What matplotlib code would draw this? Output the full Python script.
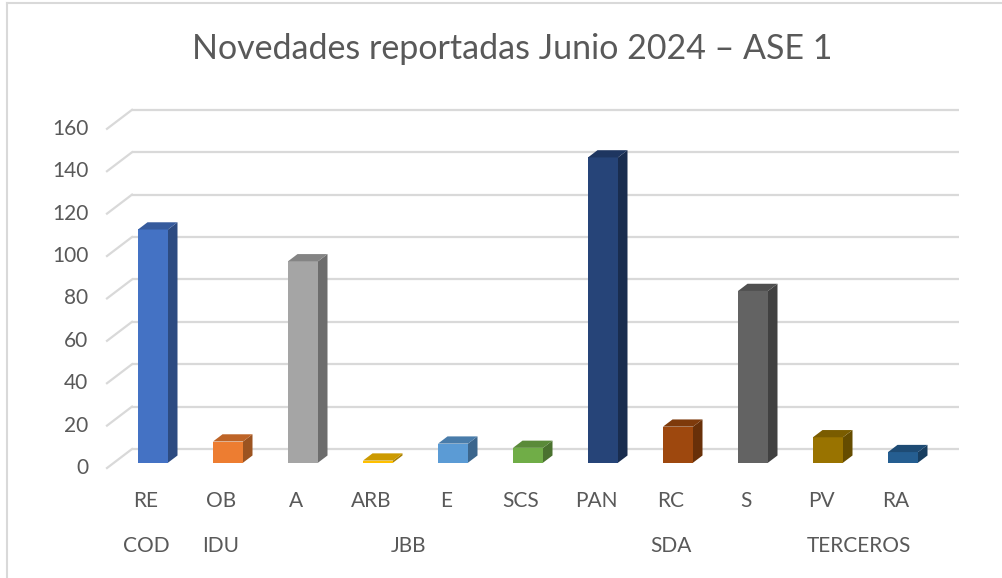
import matplotlib
matplotlib.use("Agg")
from matplotlib import pyplot as plt
from matplotlib.patches import Polygon
from matplotlib.lines import Line2D
import numpy as np

plt.rcParams['font.family'] = ['Lato', 'DejaVu Sans']

title = "Novedades reportadas Junio 2024 – ASE 1"
labels = ["RE", "OB", "A", "ARB", "E", "SCS", "PAN", "RC", "S", "PV", "RA"]
groups = ["COD", "IDU", "JBB", "JBB", "JBB", "JBB", "SDA", "SDA", "SDA", "TERCEROS", "TERCEROS"]
values = [110, 10, 95, 1, 9, 7, 144, 17, 81, 12, 5]
colors = ["#4472C4", "#ED7D31", "#A5A5A5", "#FFC000", "#5B9BD5", "#70AD47",
          "#264478", "#9E480E", "#636363", "#997300", "#255E91"]
y_ticks = [0, 20, 40, 60, 80, 100, 120, 140, 160]

TEXT = "#595959"
GRID = "#D9D9D9"

# pixel layout of the fake 3D box
W, H = 1002, 578
X0, PX_CAT = 153.0, 75.0      # pixel x of category 0, pixels per category
Y0, PX_UNIT = 462.7, 2.12     # pixel y of value 0 (bar front), pixels per unit
DX, DY = 25.0 / PX_CAT, 19.0 / PX_UNIT   # depth direction in data units
WALL_FRONT, WALL_BACK = -0.28, 0.72
BAR_DEPTH = 0.38
HALF = 0.2
X_LEFT, X_RIGHT = -0.52, 10.51


def shift(x, v, d):
    return x + d * DX, v + d * DY


def darker(c, f):
    rgb = np.array(matplotlib.colors.to_rgb(c))
    return tuple(rgb * f)


fig = plt.figure(figsize=(W / 100, H / 100), dpi=100)
ax = fig.add_axes([0, 0, 1, 1])
ax.set_xlim(-X0 / PX_CAT, (W - X0) / PX_CAT)
ax.set_ylim((Y0 - H) / PX_UNIT, Y0 / PX_UNIT)
ax.axis('off')

# chart area border (only top and left visible)
fig.add_artist(Line2D([7 / W, 7 / W], [0, 1 - 3 / H], color=GRID, lw=1.5))
fig.add_artist(Line2D([7 / W, 1], [1 - 3 / H, 1 - 3 / H], color=GRID, lw=1.5))

# walls gridlines
for t in y_ticks:
    bx0, by0 = shift(X_LEFT, t, WALL_BACK)
    bx1, by1 = shift(X_RIGHT, t, WALL_BACK)
    fx, fy = shift(X_LEFT, t, WALL_FRONT)
    ax.plot([bx0, bx1], [by0, by1], color=GRID, lw=1.6, zorder=1, solid_capstyle='butt')
    ax.plot([fx, bx0], [fy, by0], color=GRID, lw=1.6, zorder=1)
    ax.text(fx - 0.25, fy, str(t), ha='right', va='center', fontsize=15, color=TEXT)

idx = np.arange(len(values))
ax.bar(idx, values, width=2 * HALF, color=colors, zorder=3, edgecolor='none')
for i, v in enumerate(values):
    side = [(i + HALF, 0), (i + HALF, v), shift(i + HALF, v, BAR_DEPTH), shift(i + HALF, 0, BAR_DEPTH)]
    top = [(i - HALF, v), (i + HALF, v), shift(i + HALF, v, BAR_DEPTH), shift(i - HALF, v, BAR_DEPTH)]
    ax.add_patch(Polygon(side, closed=True, facecolor=darker(colors[i], 0.66), edgecolor='none', zorder=3))
    ax.add_patch(Polygon(top, closed=True, facecolor=darker(colors[i], 0.8), edgecolor='none', zorder=3))
    lx, _ = shift(i, 0, WALL_FRONT)
    ax.text(lx, -18.1, labels[i], ha='center', va='center', fontsize=15, color=TEXT)

# group labels centred under their categories
seen = []
for g in groups:
    if g not in seen:
        seen.append(g)
for g in seen:
    pos = [i for i, gg in enumerate(groups) if gg == g]
    gx, _ = shift(np.mean(pos), 0, WALL_FRONT)
    ax.text(gx, -39.3, g, ha='center', va='center', fontsize=15, color=TEXT)

fig.text(512 / W, 1 - 49 / H, title, ha='center', va='center', fontsize=24.5, color=TEXT)

fig.savefig("out.png", dpi=100, facecolor='white')
